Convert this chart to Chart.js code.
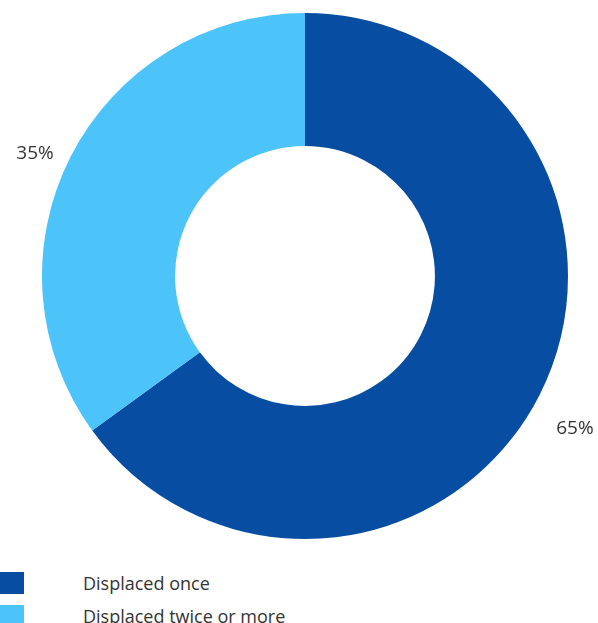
<!DOCTYPE html>
<html>
<head>
<meta charset="utf-8">
<script src="https://cdn.jsdelivr.net/npm/chart.js@4"></script>
<style>
  body { margin: 0; background: #fff; width: 598px; height: 623px; overflow: hidden; position: relative; font-family: "Open Sans", sans-serif; }
  #wrap { position: absolute; left: 0; top: 0; width: 598px; height: 552px; }
  .legend-row { position: absolute; left: 0; height: 22px; display: flex; align-items: center; }
  .legend-box { width: 24px; height: 22px; }
  .legend-text { position: absolute; left: 83px; font-size: 18px; color: #333; white-space: nowrap; }
</style>
</head>
<body>
<div id="wrap"><canvas id="donut"></canvas></div>
<div id="legend"></div>

<script>
// data
let categories = ['Displaced once', 'Displaced twice or more'];
let values = [65, 35];
let colors = ['#074ea2', '#4cc4fa'];

// percent labels next to each slice
let pctLabels = {
  id: 'pctLabels',
  afterDatasetsDraw(chart) {
    let ctx = chart.ctx;
    let meta = chart.getDatasetMeta(0);
    ctx.save();
    ctx.font = '19px "Open Sans", sans-serif';
    ctx.fillStyle = '#333';
    ctx.textAlign = 'center';
    ctx.textBaseline = 'middle';
    meta.data.forEach((arc, i) => {
      let mid = (arc.startAngle + arc.endAngle) / 2;
      let r = arc.outerRadius + 40;
      let x = arc.x + Math.cos(mid) * r;
      let y = arc.y + Math.sin(mid) * r + 15;
      ctx.fillText(values[i] + '%', x, y);
    });
    ctx.restore();
  }
};

new Chart(document.getElementById('donut'), {
  type: 'doughnut',
  data: {
    labels: categories,
    datasets: [{
      data: values,
      backgroundColor: colors,
      borderWidth: 0
    }]
  },
  options: {
    responsive: true,
    maintainAspectRatio: false,
    animation: false,
    cutout: '49.4%',
    rotation: 0,
    layout: { padding: { left: 12, top: 13, right: 0, bottom: 13 } },
    plugins: {
      legend: { display: false },
      tooltip: { enabled: false }
    }
  },
  plugins: [pctLabels]
});

// legend
let legend = document.getElementById('legend');
categories.forEach((name, i) => {
  let row = document.createElement('div');
  row.className = 'legend-row';
  row.style.top = (572 + i * 33) + 'px';
  row.style.width = '598px';
  row.innerHTML = '<div class="legend-box" style="background:' + colors[i] + '"></div>' +
    '<span class="legend-text">' + name + '</span>';
  legend.appendChild(row);
});
</script>
</body>
</html>
